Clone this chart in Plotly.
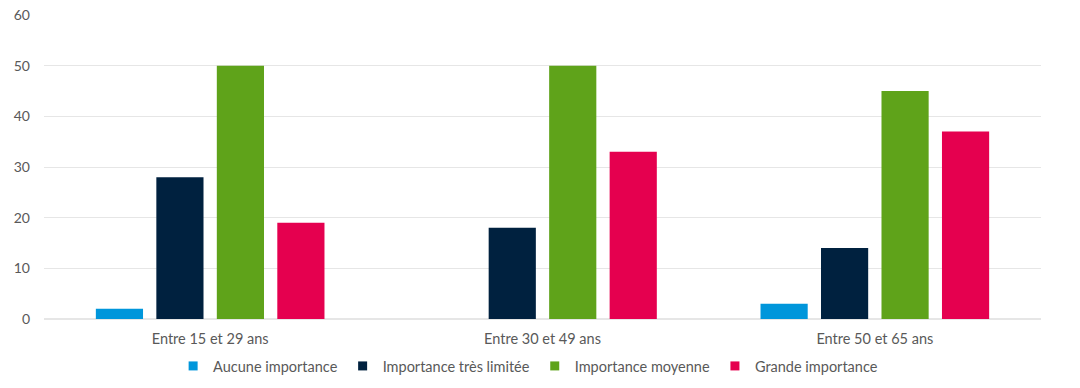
import plotly.graph_objects as go

categories = ["Entre 15 et 29 ans", "Entre 30 et 49 ans", "Entre 50 et 65 ans"]
series_names = ["Aucune importance", "Importance très limitée", "Importance moyenne", "Grande importance"]
aucune = [2, 0, 3]
tres_limitee = [28, 18, 14]
moyenne = [50, 50, 45]
grande = [19, 33, 37]
y_ticks = [0, 10, 20, 30, 40, 50, 60]

colors = ["#0096DB", "#00213F", "#5FA31A", "#E5004F"]
values = [aucune, tres_limitee, moyenne, grande]

fig = go.Figure()
for name, vals, col in zip(series_names, values, colors):
    fig.add_trace(go.Bar(x=categories, y=vals, name=name, marker_color=col,
                         marker_line_width=0, showlegend=False))
for name, col in zip(series_names, colors):
    fig.add_trace(go.Scatter(x=[None], y=[None], mode="markers", name=name,
                             marker=dict(symbol="square", size=9, color=col)))

fig.update_layout(
    width=1080, height=388,
    margin=dict(l=44, r=39, t=15, b=69, autoexpand=False),
    paper_bgcolor="white", plot_bgcolor="white",
    barmode="group", bargap=0.272, bargroupgap=0.22,
    font=dict(family="Lato", size=14, color="#595959"),
    legend=dict(orientation="h", x=0.489, xanchor="center", xref="container",
                y=1 - 366 / 388, yanchor="middle", yref="container",
                font=dict(size=14.5, color="#595959"), itemwidth=30, tracegroupgap=0),
    xaxis=dict(showgrid=False, showline=False, ticks="", tickfont=dict(size=14.5),
               ticklabelstandoff=9),
    yaxis=dict(range=[0, 60], tickvals=y_ticks, showgrid=True, gridcolor="#E6E6E6",
               gridwidth=1, zeroline=True, zerolinecolor="#E6E6E6", ticks="",
               ticklabelstandoff=13, tickfont=dict(size=14)),
)
fig.write_html("out.html")
